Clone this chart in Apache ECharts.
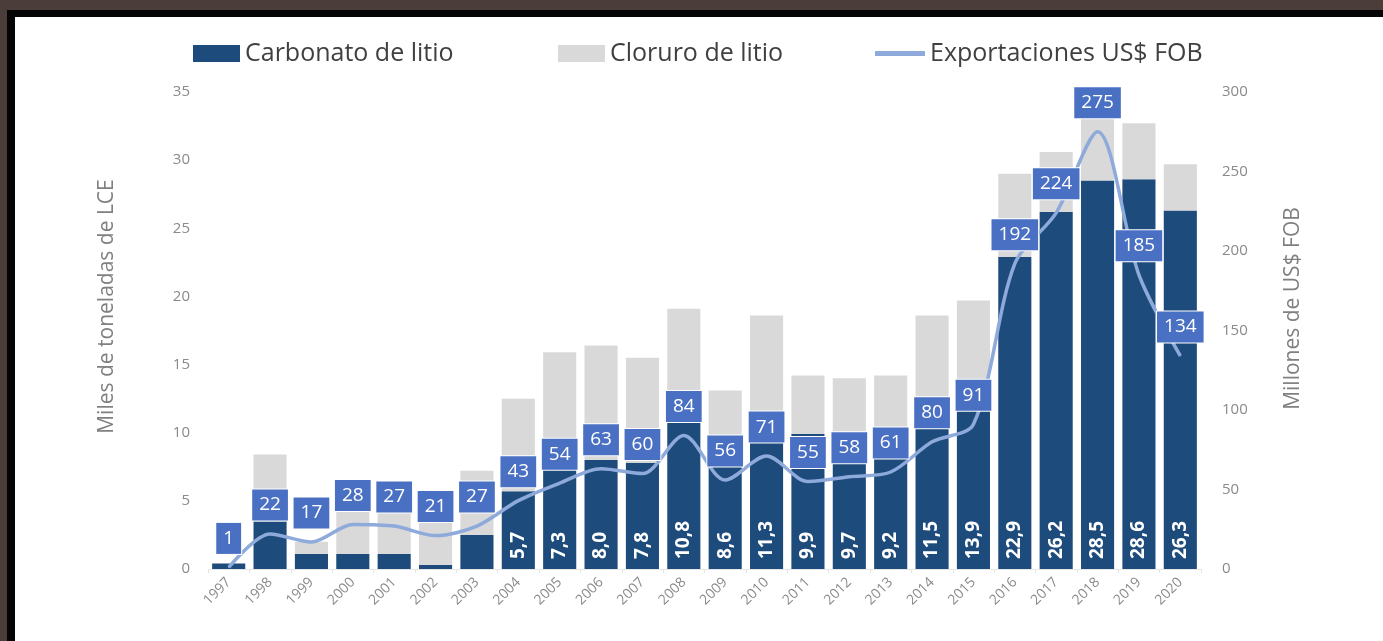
<!DOCTYPE html>
<html>
<head>
<meta charset="utf-8">
<script src="https://cdn.jsdelivr.net/npm/echarts@6/dist/echarts.min.js"></script>
<style>
html,body{margin:0;padding:0;width:1383px;height:641px;overflow:hidden;background:#ffffff;}
#brown{position:absolute;left:0;top:0;width:1383px;height:10px;background:#4b3d39;}
#brownl{position:absolute;left:0;top:0;width:7px;height:700px;background:#4b3d39;}
#blackt{position:absolute;left:7px;top:10px;width:1376px;height:7px;background:#050505;}
#blackl{position:absolute;left:7px;top:10px;width:8px;height:700px;background:#050505;}
#chart{position:absolute;left:0;top:0;width:1383px;height:641px;}
</style>
</head>
<body>
<div id="brown"></div>
<div id="brownl"></div>
<div id="blackt"></div>
<div id="blackl"></div>
<div id="chart"></div>
<script>
const years = ['1997','1998','1999','2000','2001','2002','2003','2004','2005','2006','2007','2008','2009','2010','2011','2012','2013','2014','2015','2016','2017','2018','2019','2020'];
const carbonato = [0.4,3.5,1.1,1.1,1.1,0.3,2.5,5.7,7.3,8.0,7.8,10.8,8.6,11.3,9.9,9.7,9.2,11.5,13.9,22.9,26.2,28.5,28.6,26.3];
const cloruro = [0,4.9,0.9,3.2,3.2,3.4,4.7,6.8,8.6,8.4,7.7,8.3,4.5,7.3,4.3,4.3,5.0,7.1,5.8,6.1,4.4,4.6,4.1,3.4];
const exportaciones = [1,22,17,28,27,21,27,43,54,63,60,84,56,71,55,58,61,80,91,192,224,275,185,134];
const leftTicks = {min:0,max:35,interval:5};
const rightTicks = {min:0,max:300,interval:50};

const FONT = '"Open Sans", sans-serif';
const chart = echarts.init(document.getElementById('chart'), null, {renderer:'canvas'});
const legendText = {fontSize:25, color:'#404040', fontFamily:FONT};
chart.setOption({
  backgroundColor:'transparent',
  animation:false,
  textStyle:{fontFamily:FONT},
  legend:[
    {left:188, top:36, itemWidth:47, itemHeight:17, itemGap:4, icon:'rect', textStyle:legendText, data:['Carbonato de litio']},
    {left:553, top:36, itemWidth:47, itemHeight:17, itemGap:4, icon:'rect', textStyle:legendText, data:['Cloruro de litio']},
    {left:870, top:36, itemWidth:50, itemHeight:5, itemGap:4, icon:'rect', textStyle:legendText, data:['Exportaciones US$ FOB']}
  ],
  grid:{left:208, right:182, top:92, bottom:72},
  xAxis:{
    type:'category', data:years,
    axisLine:{show:true, lineStyle:{color:'#e6e6e6', width:1}},
    axisTick:{show:true, lineStyle:{color:'#e6e6e6'}, length:4},
    axisLabel:{rotate:45, fontSize:14, color:'#8a8a8a', margin:11, fontFamily:FONT}
  },
  yAxis:[
    {type:'value', min:leftTicks.min, max:leftTicks.max, interval:leftTicks.interval,
     name:'Miles de toneladas de LCE', nameLocation:'middle', nameGap:90,
     nameTextStyle:{fontSize:21, color:'#808080', fontFamily:FONT, padding:[0,0,0,48]},
     axisLabel:{fontSize:15, color:'#8a8a8a', margin:18, fontFamily:FONT},
     axisLine:{show:false}, axisTick:{show:false}, splitLine:{show:false}},
    {type:'value', min:rightTicks.min, max:rightTicks.max, interval:rightTicks.interval,
     name:'Millones de US$ FOB', nameLocation:'middle', nameGap:82,
     nameTextStyle:{fontSize:21, color:'#808080', fontFamily:FONT, padding:[0,0,0,44]},
     axisLabel:{fontSize:15, color:'#8a8a8a', margin:21, fontFamily:FONT},
     axisLine:{show:false}, axisTick:{show:false}, splitLine:{show:false}}
  ],
  series:[
    {name:'Carbonato de litio', type:'bar', stack:'t', data:carbonato, barCategoryGap:'20%',
     itemStyle:{color:'#1d4b7b'},
     label:{show:true, position:'insideBottom', rotate:90, align:'left', verticalAlign:'middle', distance:10,
       color:'#ffffff', fontWeight:'bold', fontSize:19, fontFamily:FONT,
       formatter:p => p.value >= 5 ? p.value.toFixed(1).replace('.', ',') : ''}},
    {name:'Cloruro de litio', type:'bar', stack:'t', data:cloruro, itemStyle:{color:'#d9d9d9'}},
    {name:'Exportaciones US$ FOB', type:'line', yAxisIndex:1, data:exportaciones, smooth:0.3,
     symbol:'circle', symbolSize:1, itemStyle:{color:'#8eaadb'},
     lineStyle:{color:'#8eaadb', width:3.5}, z:5,
     label:{show:true, position:'top', distance:13, color:'#ffffff', fontSize:19, fontFamily:FONT,
       backgroundColor:'#4a70c4', padding:[6,7,6,7], borderColor:'#ffffff', borderWidth:1}}
  ]
});
</script>
</body>
</html>
